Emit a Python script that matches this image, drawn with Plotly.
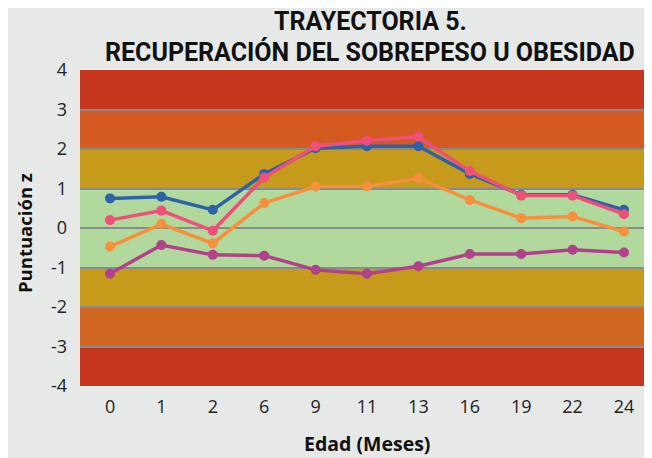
import plotly.graph_objects as go

months = ["0", "1", "2", "6", "9", "11", "13", "16", "19", "22", "24"]
blue = [0.75, 0.79, 0.46, 1.37, 2.02, 2.07, 2.07, 1.37, 0.84, 0.84, 0.46]
orange = [-0.47, 0.10, -0.39, 0.63, 1.05, 1.05, 1.26, 0.71, 0.25, 0.29, -0.09]
purple = [-1.16, -0.43, -0.68, -0.70, -1.06, -1.16, -0.97, -0.66, -0.66, -0.55, -0.62]
pink = [0.20, 0.44, -0.07, 1.28, 2.07, 2.21, 2.31, 1.44, 0.82, 0.82, 0.35]

y_ticks = [-4, -3, -2, -1, 0, 1, 2, 3, 4]
y_ticktext = ["-4", "-3", "-2", "-1", "0", "1", "2", "3", "4"]

band_edges = [-4, -3, -2, -1, 1, 2, 3, 4]
band_colors = ["#c6361f", "#d16623", "#c69a1b", "#b1d89d", "#c69a1b", "#d55a22", "#c6361f"]

series = [
    ("blue", blue, "#2e62a8"),
    ("orange", orange, "#f7903c"),
    ("purple", purple, "#b0418a"),
    ("pink", pink, "#ef4f78"),
]

fig = go.Figure()
for name, vals, col in series:
    fig.add_trace(go.Scatter(
        x=months, y=vals, name=name, mode="lines+markers",
        line=dict(color=col, width=3.5),
        marker=dict(color=col, size=10),
        showlegend=False, cliponaxis=False,
    ))

shapes = []
for i, c in enumerate(band_colors):
    shapes.append(dict(type="rect", xref="paper", yref="y", x0=0, x1=1,
                       y0=band_edges[i], y1=band_edges[i + 1],
                       fillcolor=c, line=dict(width=0), layer="below"))

title_font = dict(family="Roboto", size=25, color="#111111", weight="bold")
annotations = [
    dict(text="TRAYECTORIA 5.", xref="paper", yref="paper", x=0.507, y=1.155,
         xanchor="center", yanchor="middle", showarrow=False, font=title_font),
    dict(text="RECUPERACIÓN DEL SOBREPESO U OBESIDAD", xref="paper", yref="paper",
         x=0.507, y=1.057, xanchor="center", yanchor="middle", showarrow=False, font=title_font),
    dict(text="<b>Edad (Meses)</b>", xref="paper", yref="paper", x=0.502, y=-0.183,
         xanchor="center", yanchor="middle", showarrow=False, borderpad=0,
         font=dict(family="Open Sans", size=19.5, color="#111111")),
    dict(text="<b>Puntuación z</b>", xref="paper", yref="paper", x=-0.098, y=0.484,
         xanchor="center", yanchor="middle", showarrow=False, textangle=-90, borderpad=0,
         font=dict(family="Open Sans", size=18.5, color="#111111")),
]

fig.update_layout(
    width=644, height=450,
    paper_bgcolor="#e6e9e8", plot_bgcolor="#e6e9e8",
    margin=dict(l=72, r=0, t=62, b=72, autoexpand=False),
    shapes=shapes,
    annotations=annotations,
    font=dict(family="Open Sans", color="#222222"),
)
fig.update_xaxes(
    type="category", range=[-0.584, 10.545], automargin=False,
    showgrid=False, zeroline=False, showline=False,
    tickfont=dict(size=18, family="Open Sans", color="#222222"),
    ticks="", ticklabelstandoff=8,
)
fig.update_yaxes(
    range=[-4, 4], tickvals=y_ticks, ticktext=y_ticktext, automargin=False,
    showgrid=True, gridcolor="#8a8a8a", gridwidth=1.5,
    zeroline=True, zerolinecolor="#8a8a8a", zerolinewidth=1.5,
    showline=False, ticks="",
    tickfont=dict(size=18, family="Open Sans", color="#222222"),
    ticklabelstandoff=12,
)

fig.write_html("out.html")
